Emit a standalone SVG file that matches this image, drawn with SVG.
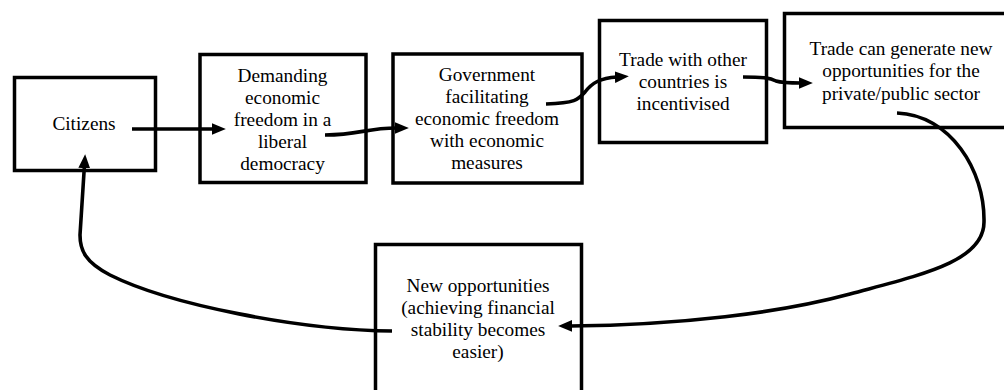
<svg xmlns="http://www.w3.org/2000/svg" width="1004" height="390" viewBox="0 0 1004 390">
  <style>
    .box { fill: #ffffff; stroke: #000000; stroke-width: 3.5; }
    .lbl { font-size: 19.3px; fill: #000000; text-anchor: middle; }
    .con { fill: none; stroke: #000000; stroke-width: 3.6; marker-end: url(#arrow); }
  </style>
  <defs>
    <marker id="arrow" markerUnits="userSpaceOnUse" markerWidth="14" markerHeight="12" viewBox="0 0 13 11" refX="2" refY="5.5" orient="auto">
      <path d="M0,0 L13,5.5 L0,11 z" fill="#000000"/>
    </marker>
  </defs>
  <rect width="1004" height="390" fill="#ffffff"/>

  <g id="citizens" font-family="'Liberation Serif', 'DejaVu Serif', serif">
    <rect class="box" x="14.5" y="77.5" width="141" height="93"/>
    <text class="lbl" x="84" y="130">Citizens</text>
  </g>

  <g id="demanding" font-family="'Liberation Serif', 'DejaVu Serif', serif">
    <rect class="box" x="200" y="54.5" width="166" height="128"/>
    <text class="lbl" x="282.5" y="82">Demanding</text>
    <text class="lbl" x="282.5" y="104">economic</text>
    <text class="lbl" x="282.5" y="126">freedom in a</text>
    <text class="lbl" x="282.5" y="148">liberal</text>
    <text class="lbl" x="282.5" y="170">democracy</text>
  </g>

  <g id="government" font-family="'Liberation Serif', 'DejaVu Serif', serif">
    <rect class="box" x="393" y="54" width="189" height="129"/>
    <text class="lbl" x="487" y="81">Government</text>
    <text class="lbl" x="487" y="103">facilitating</text>
    <text class="lbl" x="487" y="125">economic freedom</text>
    <text class="lbl" x="487" y="147">with economic</text>
    <text class="lbl" x="487" y="169">measures</text>
  </g>

  <g id="trade-with" font-family="'Liberation Serif', 'DejaVu Serif', serif">
    <rect class="box" x="599.5" y="20.5" width="167" height="122"/>
    <text class="lbl" x="683" y="66">Trade with other</text>
    <text class="lbl" x="683" y="88">countries is</text>
    <text class="lbl" x="683" y="110">incentivised</text>
  </g>

  <g id="trade-can" font-family="'Liberation Serif', 'DejaVu Serif', serif">
    <rect class="box" x="784.5" y="13.5" width="240" height="114"/>
    <text class="lbl" x="901" y="55">Trade can generate new</text>
    <text class="lbl" x="901" y="77">opportunities for the</text>
    <text class="lbl" x="901" y="99.5">private/public sector</text>
  </g>

  <g id="new-opportunities" font-family="'Liberation Serif', 'DejaVu Serif', serif">
    <rect class="box" x="375.5" y="244.5" width="206" height="160"/>
    <text class="lbl" x="478" y="292">New opportunities</text>
    <text class="lbl" x="478" y="314">(achieving financial</text>
    <text class="lbl" x="478" y="336">stability becomes</text>
    <text class="lbl" x="478" y="358">easier)</text>
  </g>

  <g id="connectors">
    <path class="con" d="M132,129 L214,129"/>
    <path class="con" d="M325,135 C360,135 365,128 397,128"/>
    <path class="con" d="M546,104 C575,103 578,100 585,92 C592,83 600,78 617,77"/>
    <path class="con" d="M743,77 C765,77 770,78 776,81 C782,83 790,83 801,83"/>
    <path class="con" d="M897,113 C950,115 985,170 984,222 C984,262 920,275 850,294 C780,313 680,325 570,326"/>
    <path class="con" d="M392,331 C300,330 170,305 110,275 C85,262 80,250 80,235 L84.4,166"/>
  </g>
</svg>
